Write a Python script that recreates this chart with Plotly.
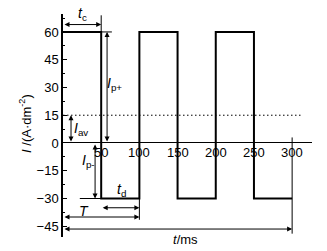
import plotly.graph_objects as go

# data
time_ms = [0, 50, 100, 150, 200, 250, 300]
current = [60, -30, 60, -30, 60, -30, -30]
ytick_vals = [-45, -30, -15, 0, 15, 30, 45, 60]
xtick_vals = [50, 100, 150, 200, 250, 300]
I_pos = 60
I_neg = -30
I_av = 15
t_c = 50
T = 100
t_end = 300

FONT = "Liberation Sans, Arial, sans-serif"

fig = go.Figure()

# average current dotted line
fig.add_trace(go.Scatter(x=[0, 314], y=[I_av, I_av], mode="lines",
                         line=dict(color="black", width=1, dash="1.5px,2.5px"),
                         hoverinfo="skip", showlegend=False))

# thin extension lines
ext = [
    ([t_c, t_c], [I_pos, 69]),
    ([t_c, 64], [I_pos, I_pos]),
    ([22, t_c], [I_neg, I_neg]),
    ([T, T], [I_neg, -41.5]),
    ([t_end, t_end], [-49, 3]),
]
for xs, ys in ext:
    fig.add_trace(go.Scatter(x=xs, y=ys, mode="lines",
                             line=dict(color="black", width=1),
                             hoverinfo="skip", showlegend=False))

# waveform
fig.add_trace(go.Scatter(x=time_ms, y=current, mode="lines", line_shape="hv",
                         line=dict(color="black", width=2),
                         hoverinfo="skip", showlegend=False))

annotations = []

def darrow(x0, y0, x1, y1):
    annotations.append(dict(x=x1, y=y1, ax=x0, ay=y0, xref="x", yref="y",
                            axref="x", ayref="y", text="", showarrow=True,
                            arrowhead=2, arrowside="end+start", arrowsize=1,
                            arrowwidth=1, arrowcolor="black",
                            standoff=0, startstandoff=0))

darrow(0, 64, t_c, 64)            # t_c
darrow(57.7, 0, 57.7, I_pos)      # I_p+
darrow(10.5, 0, 10.5, I_av)       # I_av
darrow(42, 0, 42, I_neg)          # I_p-
darrow(t_c, -35, T, -35)          # t_d
darrow(0, -40, T, -40)            # T
darrow(0, -46.5, t_end, -46.5)    # t/ms

def label(x, y, text, size=14):
    annotations.append(dict(x=x, y=y, xref="x", yref="y", text=text,
                            showarrow=False, font=dict(family=FONT, size=size, color="black")))

label(25, 69.5, "<i>t</i><sub>c</sub>")
label(68, 32, "<i>I</i><sub>p+</sub>")
label(23, 7.5, "<i>I</i><sub>av</sub>")
label(33, -10, "<i>I</i><sub>p-</sub>")
label(77, -25.5, "<i>t</i><sub>d</sub>")
label(27, -36.5, "<i>T</i>")

annotations.append(dict(x=161, y=-0.01, xref="x", yref="paper", yanchor="middle",
                        text="<i>t</i>/ms",
                        showarrow=False, font=dict(family=FONT, size=13, color="black")))

for xv in xtick_vals:
    annotations.append(dict(x=xv, y=0, xref="x", yref="y", text=str(xv),
                            showarrow=False, yshift=-10,
                            font=dict(family=FONT, size=13, color="black")))

annotations.append(dict(x=-0.19, y=0.51, xref="paper", yref="paper",
                        text="<i>I</i> /(A·dm<sup>-2</sup>)", textangle=-90,
                        showarrow=False, font=dict(family=FONT, size=13, color="black")))

fig.update_layout(
    width=327, height=251,
    margin=dict(l=63, r=15, t=14, b=14),
    plot_bgcolor="white", paper_bgcolor="white",
    annotations=annotations,
    xaxis=dict(range=[0, 326], showgrid=False, zeroline=False, showline=False,
               showticklabels=False, ticks=""),
    yaxis=dict(range=[-50.8, 69.7], showgrid=False, tickvals=ytick_vals,
               ticks="inside", ticklen=4, tickcolor="black", tickwidth=1,
               minor=dict(dtick=7.5, tick0=0, ticks="inside", ticklen=2, tickcolor="black"),
               showline=True, linecolor="black", linewidth=1.5,
               zeroline=True, zerolinecolor="black", zerolinewidth=1.2,
               tickfont=dict(family=FONT, size=13, color="black")),
)

fig.write_html("out.html", config={"displayModeBar": False},
               post_script="document.body.style.margin='0';")
